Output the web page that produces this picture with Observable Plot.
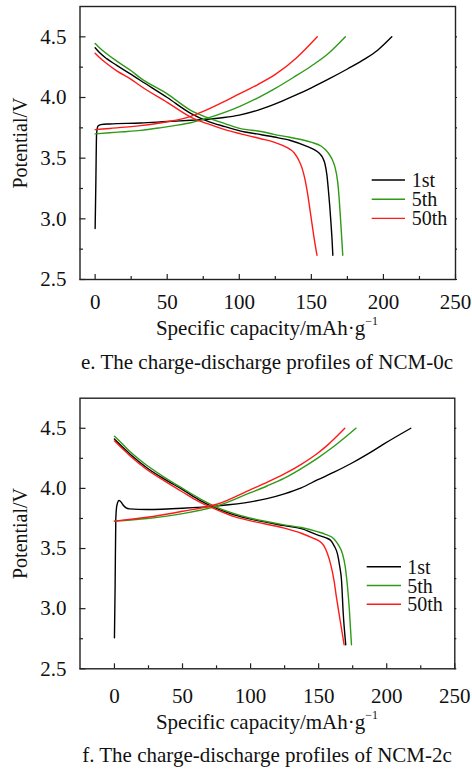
<!DOCTYPE html>
<html><head><meta charset="utf-8">
<script src="https://cdn.jsdelivr.net/npm/d3@7"></script>
<script src="https://cdn.jsdelivr.net/npm/@observablehq/plot@0.6"></script>
<style>
body{margin:0;background:#fff;font-family:"Liberation Serif","Times New Roman",serif;color:#111;}
#wrap{width:472px;}
.xt{margin-left:79px;width:376px;text-align:center;font-size:21px;white-space:nowrap;}
.xt sup{font-size:12px;line-height:0;vertical-align:10px;}
.cap{margin-left:79px;width:376px;text-align:center;font-size:21px;white-space:nowrap;}
svg text{font-family:"Liberation Serif","Times New Roman",serif !important;}
</style></head>
<body><div id="wrap"></div>
<script>
// ---------- data ----------
const seriesNames = ["1st", "5th", "50th"];
const seriesColors = ["#000000", "#2f9a16", "#ff1a1a"];
const xTicks = [0, 50, 100, 150, 200, 250];
const xMinor = [25, 75, 125, 175, 225];
const yTicks = [2.5, 3.0, 3.5, 4.0, 4.5];
const yMinor = [2.75, 3.25, 3.75, 4.25];

// NCM-0c  [capacity mAh/g, potential V]
const ncm0c_1st_charge = [[0,2.92],[0.5,3.3],[1,3.7],[2,3.765],[4,3.776],[10,3.782],[31.5,3.79],[50,3.802],[66.3,3.812],[80,3.823],[89.4,3.835],[100,3.855],[112.6,3.894],[125,3.948],[137.5,4.012],[150,4.08],[162.5,4.155],[175,4.235],[187.5,4.32],[196,4.39],[205.8,4.5]];
const ncm0c_5th_charge = [[0,3.70],[10,3.71],[20,3.718],[31.5,3.729],[45,3.75],[55,3.768],[66.3,3.792],[77.9,3.83],[89.4,3.875],[100,3.925],[112.6,3.995],[125,4.075],[137.5,4.165],[150,4.26],[162,4.365],[173.6,4.5]];
const ncm0c_50th_charge = [[0,3.735],[10,3.745],[25,3.76],[31.5,3.768],[50,3.80],[66.3,3.845],[75,3.885],[89.4,3.965],[100,4.03],[112.6,4.105],[125,4.19],[140,4.33],[154.1,4.5]];
const ncm0c_1st_discharge = [[0,4.41],[3,4.37],[8,4.32],[15,4.265],[25,4.19],[31.5,4.14],[50,4.0],[66.3,3.87],[77.9,3.806],[90,3.76],[101,3.723],[112,3.70],[124.2,3.674],[135,3.648],[147.4,3.595],[152,3.57],[155.5,3.54],[157.8,3.505],[159.5,3.45],[160.8,3.36],[161.8,3.24],[162.8,3.10],[163.7,2.95],[164.4,2.82],[164.9,2.70]];
const ncm0c_5th_discharge = [[0,4.445],[3,4.41],[8,4.36],[15,4.30],[25,4.22],[31.5,4.16],[50,4.03],[66.3,3.894],[77.9,3.834],[90,3.785],[101,3.743],[115,3.72],[124,3.696],[135,3.672],[149.7,3.632],[156.7,3.60],[161.3,3.55],[164,3.50],[166.3,3.43],[168.3,3.30],[169.4,3.15],[170.5,2.95],[171.8,2.70]];
const ncm0c_50th_discharge = [[0,4.365],[3,4.33],[8,4.28],[15,4.22],[25,4.15],[31.5,4.095],[50,3.96],[66.3,3.839],[77.9,3.784],[90,3.735],[101,3.70],[115,3.66],[124,3.632],[130,3.605],[135,3.575],[138,3.545],[141,3.49],[143.5,3.42],[145.5,3.33],[147.5,3.20],[149.7,3.02],[151.8,2.85],[153.9,2.70]];

// NCM-2c
const ncm2c_1st_charge = [[0,2.758],[0.5,3.19],[1,3.75],[1.8,3.86],[3.4,3.899],[5,3.885],[6.5,3.86],[8.3,3.84],[11,3.83],[24,3.825],[50,3.835],[75.8,3.855],[100,3.888],[112,3.915],[124.8,3.955],[137.2,4.005],[149,4.07],[161.3,4.135],[173.5,4.205],[185.9,4.285],[198,4.37],[217.7,4.5]];
const ncm2c_5th_charge = [[0,3.728],[24,3.75],[50,3.79],[75.8,3.855],[100,3.965],[112,4.02],[124.8,4.085],[137.2,4.165],[149,4.25],[161.3,4.35],[177.4,4.5]];
const ncm2c_50th_charge = [[0,3.728],[24,3.76],[50,3.81],[75.8,3.87],[100,3.99],[112,4.05],[124.8,4.12],[137.2,4.20],[149,4.29],[156.5,4.36],[169.2,4.5]];
const ncm2c_1st_discharge = [[0,4.41],[5,4.355],[12,4.28],[24,4.17],[37,4.075],[50,3.99],[62,3.905],[75.8,3.83],[88,3.78],[100,3.745],[124.8,3.69],[137.2,3.665],[149,3.614],[155,3.59],[158.9,3.567],[161.5,3.52],[163.8,3.456],[165.5,3.35],[166.8,3.234],[168,2.97],[169.9,2.70]];
const ncm2c_5th_discharge = [[0,4.434],[5,4.38],[12,4.30],[24,4.19],[37,4.09],[50,4.0],[62,3.92],[75.8,3.84],[88,3.79],[100,3.752],[124.8,3.697],[137.2,3.675],[149,3.64],[155,3.618],[161.3,3.58],[164.5,3.53],[167.5,3.456],[169.5,3.35],[171.2,3.18],[172.5,3.0],[174.1,2.70]];
const ncm2c_50th_discharge = [[0,4.395],[5,4.34],[12,4.265],[24,4.155],[37,4.06],[50,3.97],[62,3.89],[75.8,3.82],[88,3.765],[100,3.73],[124.8,3.67],[137.2,3.627],[145,3.59],[151.6,3.552],[154,3.52],[156.5,3.456],[159,3.36],[161.3,3.234],[163,3.10],[165,2.957],[168.7,2.70]];

const panels = [
  {caption: "e. The charge-discharge profiles of NCM-0c",
   charge: [ncm0c_1st_charge, ncm0c_5th_charge, ncm0c_50th_charge],
   discharge: [ncm0c_1st_discharge, ncm0c_5th_discharge, ncm0c_50th_discharge],
   xDomain: [-10.5, 250], height: 312, mt: 6, mb: 33, mr: 17, xpad: 15,
   legend: {x1: 371.7, x2: 405, tx: 411.7, y0: 180, dy: 19.2}},
  {caption: "f. The charge-discharge profiles of NCM-2c",
   charge: [ncm2c_1st_charge, ncm2c_5th_charge, ncm2c_50th_charge],
   discharge: [ncm2c_1st_discharge, ncm2c_5th_discharge, ncm2c_50th_discharge],
   xDomain: [-25.3, 250], height: 326, mt: 17.7, mb: 37.7, mr: 17.7, xpad: 19,
   legend: {x1: 366.7, x2: 401, tx: 407.3, y0: 186.7, dy: 18.8}}
];

const FONT = "'Liberation Serif', 'Times New Roman', serif";
const wrap = document.getElementById("wrap");
panels.forEach((p, pi) => {
  const ml = 79.5;
  const fw = 472 - ml - p.mr;
  const fh = p.height - p.mt - p.mb;
  const lineMarks = [];
  seriesNames.forEach((name, i) => {
    for (const arr of [p.charge[i], p.discharge[i]]) {
      lineMarks.push(Plot.line(arr, {x: d => d[0], y: d => d[1], stroke: seriesColors[i], strokeWidth: 1.4, curve: "monotone-x"}));
    }
  });
  const tk = {stroke: "#222", strokeWidth: 1.2};
  const svg = Plot.plot({
    width: 472, height: p.height,
    marginLeft: ml, marginRight: p.mr, marginTop: p.mt, marginBottom: p.mb,
    style: `font-family: ${FONT}; font-size: 21px; color: #111; background: transparent; overflow: visible;`,
    x: {domain: p.xDomain},
    y: {domain: [2.5, 4.75]},
    marks: [
      Plot.axisX(xTicks, {tickSize: 0, tickPadding: p.xpad, label: null, fontSize: 21}),
      Plot.axisY(yTicks, {tickSize: 0, tickPadding: 13.5, label: null, fontSize: 21, tickFormat: d => d.toFixed(1)}),
      Plot.tickX(xTicks, {x: d => d, insetTop: fh - 5, ...tk}),
      Plot.tickX(xMinor, {x: d => d, insetTop: fh - 3, ...tk}),
      Plot.tickY(yTicks, {y: d => d, insetRight: fw - 6, ...tk}),
      Plot.tickY(yMinor, {y: d => d, insetRight: fw - 3.5, ...tk}),
      Plot.tickY([...yTicks, ...yMinor], {y: d => d, insetLeft: fw, insetRight: -2, ...tk}),
      ...lineMarks,
      Plot.frame({stroke: "#222", strokeWidth: 1.4}),
      Plot.text(["Potential/V"], {frameAnchor: "left", dx: -59.5, rotate: -90, textAnchor: "middle", lineAnchor: "middle", fontSize: 20, fill: "#111"})
    ]
  });
  const g = d3.select(svg).append("g").attr("text-anchor", "start");
  seriesNames.forEach((name, i) => {
    const y = p.legend.y0 + i * p.legend.dy;
    g.append("line").attr("x1", p.legend.x1).attr("x2", p.legend.x2).attr("y1", y).attr("y2", y)
      .attr("stroke", seriesColors[i]).attr("stroke-width", 1.4);
    g.append("text").attr("x", p.legend.tx).attr("y", y).attr("dy", "0.35em")
      .style("font-size", "20px").style("text-anchor", "start").attr("fill", "#111").text(name);
  });
  d3.select(svg).selectAll("text").style("font-family", FONT);
  wrap.appendChild(svg);
  const xt = document.createElement("div");
  xt.className = "xt";
  xt.style.height = "32px"; xt.style.lineHeight = "32px";
  xt.innerHTML = "Specific capacity/mAh·g<sup>−1</sup>";
  wrap.appendChild(xt);
  const cap = document.createElement("div");
  cap.className = "cap";
  cap.style.height = pi === 0 ? "36px" : "34px";
  cap.style.lineHeight = pi === 0 ? "36px" : "34px";
  cap.textContent = p.caption;
  wrap.appendChild(cap);
});
</script>
</body></html>
